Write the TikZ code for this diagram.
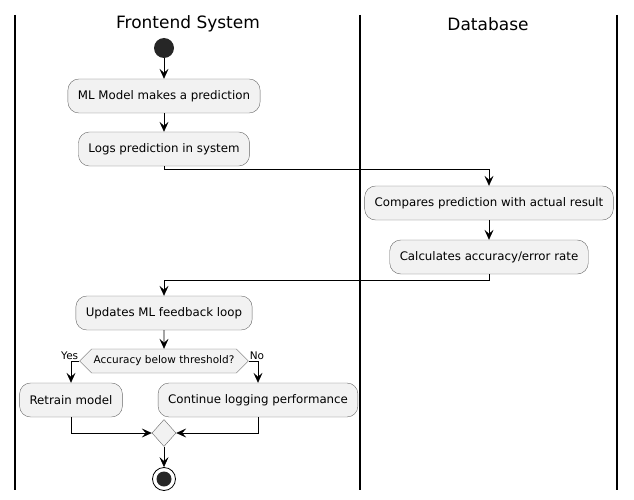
\documentclass[tikz,border=0pt]{standalone}
\usepackage{fontspec}
\setmainfont{DejaVu Sans}
\usetikzlibrary{arrows.meta,shapes.symbols,shapes.geometric}
\begin{document}
\begin{tikzpicture}[x=1pt,y=-1pt,
  lane/.style={line width=1.2pt},
  act/.style={draw=black!60,fill=black!5,rounded corners=11pt,minimum height=34pt,inner xsep=10pt,font=\fontsize{11.8}{14}\selectfont},
  flow/.style={line width=0.7pt,-{Stealth[length=10pt,width=9pt,inset=4pt]}},
  lbl/.style={font=\fontsize{10.5}{12}\selectfont,inner sep=1pt},
  title/.style={font=\fontsize{17}{20}\selectfont}]
\useasboundingbox (0,0) rectangle (634,500);
% lanes
\draw[lane] (15,15) -- (15,490);
\draw[lane] (360,15) -- (360,490);
\draw[lane] (617,15) -- (617,490);
\node[title] (t1) at (188,24) {Frontend System};
\node[title] (t2) at (488,24) {Database};
% nodes
\node[circle,fill=black!85,minimum size=20pt,inner sep=0] (start) at (164,48) {};
\node[act] (ml) at (164,96) {ML Model makes a prediction};
\node[act] (logs) at (164,149) {Logs prediction in system};
\node[act] (cmp) at (489,203) {Compares prediction with actual result};
\node[act] (calc) at (489,257) {Calculates accuracy/error rate};
\node[act] (upd) at (164,313) {Updates ML feedback loop};
\node[signal,signal to=west and east,signal pointer angle=90,draw=black!60,fill=black!5,
  minimum height=24pt,inner ysep=0pt,inner xsep=2pt,font=\fontsize{10.5}{12}\selectfont] (dec) at (164,361) {Accuracy below threshold?};
\node[act] (re) at (71,400) {Retrain model};
\node[act] (cont) at (258,400) {Continue logging performance};
\node[diamond,draw=black!60,fill=black!5,minimum width=24pt,minimum height=27pt,inner sep=0] (merge) at (164,433) {};
\node[circle,draw=black,line width=0.8pt,minimum size=23pt,inner sep=0] (end) at (164,479) {};
\node[circle,fill=black!85,minimum size=15pt,inner sep=0] (endin) at (164,479) {};
% connectors
\draw[flow] (start) -- (ml);
\draw[flow] (ml) -- (logs);
\draw[flow] (logs.south) -- ++(0,3) -| (cmp.north);
\draw[flow] (cmp) -- (calc);
\draw[flow] (calc.south) -- ++(0,6) -| (upd.north);
\draw[flow] (upd) -- (dec);
\draw[flow] (dec.west) -| (re.north);
\draw[flow] (dec.east) -| (cont.north);
\node[lbl,anchor=south east] (yes) at (dec.west) {Yes};
\node[lbl,anchor=south west] (no) at (dec.east) {No};
\draw[flow] (re.south) |- (merge.west);
\draw[flow] (cont.south) |- (merge.east);
\draw[flow] (merge) -- (end);
\end{tikzpicture}
\end{document}
